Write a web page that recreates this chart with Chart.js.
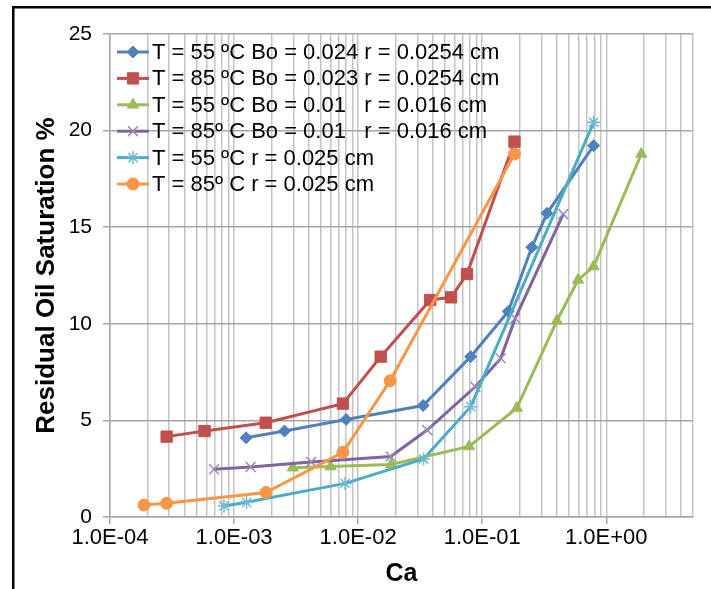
<!DOCTYPE html>
<html>
<head>
<meta charset="utf-8">
<script src="https://cdn.jsdelivr.net/npm/chart.js@4.4.1/dist/chart.umd.min.js"></script>
<style>
  html, body { margin: 0; padding: 0; background: #fff; overflow: hidden; }
</style>
</head>
<body>
<canvas id="chart" width="711" height="589"></canvas>
<script>
// series labels as in the legend
const seriesLabels = [
    'T = 55 ºC Bo = 0.024 r = 0.0254 cm',
    'T = 85 ºC Bo = 0.023 r = 0.0254 cm',
    'T = 55 ºC Bo = 0.01   r = 0.016 cm',
    'T = 85º C Bo = 0.01   r = 0.016 cm',
    'T = 55 ºC r = 0.025 cm',
    'T = 85º C r = 0.025 cm'
];

// capillary number (x) and residual oil saturation (y)
const caBlue = [1.25e-3, 2.55e-3, 8.0e-3, 0.0334, 0.0807, 0.162, 0.251, 0.333, 0.791];
const soBlue = [4.10, 4.45, 5.05, 5.77, 8.30, 10.64, 13.96, 15.72, 19.22];

const caRed = [2.86e-4, 5.78e-4, 1.80e-3, 7.54e-3, 0.0152, 0.0381, 0.0562, 0.0754, 0.182];
const soRed = [4.16, 4.45, 4.88, 5.87, 8.30, 11.23, 11.37, 12.58, 19.43];

const caGreen = [2.97e-3, 6.0e-3, 0.0185, 0.0785, 0.19, 0.40, 0.592, 0.79, 1.915];
const soGreen = [2.55, 2.61, 2.72, 3.65, 5.64, 10.16, 12.27, 12.96, 18.79];

const caPurple = [6.9e-4, 1.36e-3, 4.18e-3, 0.0183, 0.036, 0.0879, 0.141, 0.1845, 0.45];
const soPurple = [2.47, 2.59, 2.85, 3.13, 4.50, 6.74, 8.21, 10.28, 15.68];

const caCyan = [8.3e-4, 1.26e-3, 7.85e-3, 0.0337, 0.0807, 0.791];
const soCyan = [0.57, 0.76, 1.74, 3.00, 5.71, 20.43];

const caOrange = [1.88e-4, 2.86e-4, 1.81e-3, 7.54e-3, 0.0181, 0.182];
const soOrange = [0.62, 0.71, 1.27, 3.35, 7.05, 18.79];

// axis ticks
const xMin = 1e-4;
const xMax = 5;
const yTicks = [0, 5, 10, 15, 20, 25];

const FONT = "'Liberation Sans', Arial, sans-serif";

function toPoints(xs, ys) {
    return xs.map((x, i) => ({x: x, y: ys[i]}));
}

function isDecade(v) {
    const l = Math.log10(v);
    return Math.abs(l - Math.round(l)) < 1e-9;
}

function sciLabel(v) {
    const e = Math.round(Math.log10(v));
    return '1.0E' + (e < 0 ? '-' : '+') + String(Math.abs(e)).padStart(2, '0');
}

// grid lines at 1..9 x 10^n, the right edge at xMax
function logGridValues() {
    const values = [];
    for (let e = -4; e <= 0; e++) {
        for (let m = 1; m <= 9; m++) {
            const v = m * Math.pow(10, e);
            if (v <= xMax + 1e-9) values.push(v);
        }
    }
    return values;
}

function makeSet(i, xs, ys, color, style, radius, pointColor, pointWidth, filled) {
    return {
        label: seriesLabels[i],
        data: toPoints(xs, ys),
        borderColor: color,
        backgroundColor: color,
        borderWidth: 3,
        pointStyle: style,
        pointRadius: radius,
        pointHoverRadius: radius,
        pointBackgroundColor: filled ? pointColor : 'rgba(0,0,0,0)',
        pointBorderColor: pointColor,
        pointBorderWidth: pointWidth,
        tension: 0,
        order: -i
    };
}

const datasets = [
    makeSet(0, caBlue, soBlue, '#4F81BD', 'rectRot', 6, '#4F81BD', 1, true),
    makeSet(1, caRed, soRed, '#C0504D', 'rect', 8, '#C0504D', 1, true),
    makeSet(2, caGreen, soGreen, '#9BBB59', 'triangle', 6.5, '#9BBB59', 1, true),
    makeSet(3, caPurple, soPurple, '#8064A2', 'crossRot', 7, '#9A88BE', 1.5, false),
    makeSet(4, caCyan, soCyan, '#4BACC6', 'star', 6.5, '#6FB9D2', 1.5, false),
    makeSet(5, caOrange, soOrange, '#F79646', 'circle', 6, '#F79646', 1, true)
];

const framePlugin = {
    id: 'frame',
    beforeDraw(chart) {
        const ctx = chart.ctx;
        ctx.save();
        ctx.fillStyle = '#fff';
        ctx.fillRect(0, 0, chart.width, chart.height);
        ctx.strokeStyle = '#000';
        ctx.lineWidth = 2.5;
        ctx.strokeRect(13.25, 7.25, 900, 900);
        ctx.restore();
    }
};

const insideLegend = {
    id: 'insideLegend',
    afterDatasetsDraw(chart) {
        const ctx = chart.ctx;
        ctx.save();
        chart.data.datasets.forEach((ds, i) => {
            const y = 52 + i * 26.4;
            ctx.strokeStyle = ds.borderColor;
            ctx.lineWidth = 3;
            ctx.beginPath();
            ctx.moveTo(117, y);
            ctx.lineTo(149, y);
            ctx.stroke();
            ctx.fillStyle = ds.pointBackgroundColor;
            ctx.strokeStyle = ds.pointBorderColor;
            ctx.lineWidth = ds.pointBorderWidth;
            Chart.helpers.drawPoint(ctx, {
                pointStyle: ds.pointStyle,
                radius: ds.pointRadius,
                borderWidth: ds.pointBorderWidth,
                rotation: 0
            }, 133, y);
            ctx.fillStyle = '#000';
            ctx.font = '22px ' + FONT;
            ctx.textBaseline = 'middle';
            ctx.textAlign = 'left';
            ctx.fillText(ds.label, 152, y + 1);
        });
        ctx.restore();
    }
};

const gridValues = logGridValues();

new Chart(document.getElementById('chart'), {
    type: 'line',
    data: {datasets: datasets},
    plugins: [framePlugin, insideLegend],
    options: {
        responsive: false,
        animation: false,
        events: [],
        layout: {padding: {left: 0, right: 18, top: 34, bottom: 0}},
        plugins: {
            legend: {display: false},
            tooltip: {enabled: false}
        },
        scales: {
            x: {
                type: 'logarithmic',
                min: xMin,
                max: xMax,
                afterBuildTicks(scale) {
                    scale.ticks = gridValues.map(v => ({value: v}));
                },
                afterFit(scale) {
                    scale.height = 72;
                },
                ticks: {
                    autoSkip: false,
                    maxRotation: 0,
                    minRotation: 0,
                    padding: 1,
                    color: '#000',
                    font: {family: FONT, size: 22},
                    callback: (v) => isDecade(v) ? sciLabel(v) : ''
                },
                grid: {
                    color: '#c4c4c4',
                    lineWidth: 1.5,
                    tickLength: 7,
                    tickColor: (c) => (c.tick && isDecade(c.tick.value)) ? '#a6a6a6' : 'rgba(0,0,0,0)'
                },
                border: {color: '#a6a6a6', width: 1.5},
                title: {
                    display: true,
                    text: 'Ca',
                    color: '#000',
                    font: {family: FONT, size: 25, weight: 'bold'},
                    padding: {top: 0, bottom: 0}
                }
            },
            y: {
                min: 0,
                max: 25,
                afterBuildTicks(scale) {
                    scale.ticks = yTicks.map(v => ({value: v}));
                },
                afterFit(scale) {
                    scale.width = 110;
                },
                ticks: {
                    padding: 11,
                    color: '#000',
                    font: {family: FONT, size: 21}
                },
                grid: {color: '#a6a6a6', lineWidth: 1.5, tickLength: 7},
                border: {color: '#a6a6a6', width: 1.5},
                title: {
                    display: true,
                    text: 'Residual Oil Saturation %',
                    color: '#000',
                    font: {family: FONT, size: 26, weight: 'bold'},
                    padding: {top: 31, bottom: 0}
                }
            }
        }
    }
});
</script>
</body>
</html>
